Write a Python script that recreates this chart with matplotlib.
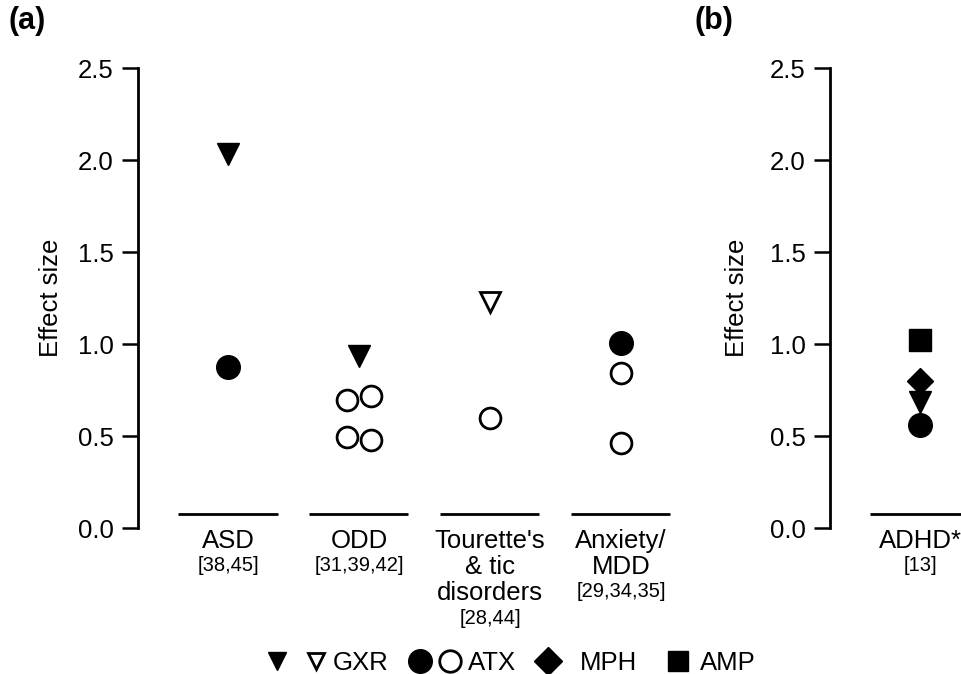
import matplotlib.pyplot as plt
from matplotlib.lines import Line2D
from matplotlib.legend_handler import HandlerTuple

plt.rcParams['font.family'] = ['Liberation Sans', 'DejaVu Sans']

# panel (a) data
categories = ['ASD', 'ODD', "Tourette's\n& tic\ndisorders", 'Anxiety/\nMDD']
refs = ['[38,45]', '[31,39,42]', '[28,44]', '[29,34,35]']

gxr_cat = [0, 1]
gxr_val = [2.03, 0.935]
gxr_open_cat = [2]
gxr_open_val = [1.23]
atx_cat = [0, 3]
atx_val = [0.875, 1.005]
atx_open_cat = [1, 1, 1, 1, 2, 3, 3]
atx_open_val = [0.695, 0.72, 0.495, 0.478, 0.60, 0.84, 0.46]
atx_open_dodge = [-0.095, 0.095, -0.095, 0.095, 0, 0, 0]

# panel (b) data
adhd_label = 'ADHD*'
adhd_ref = '[13]'
adhd_gxr = 0.685
adhd_atx = 0.56
adhd_mph = 0.80
adhd_amp = 1.02

yticks = [0.0, 0.5, 1.0, 1.5, 2.0, 2.5]

W, H = 961, 674
fig = plt.figure(figsize=(W / 100, H / 100), dpi=100)
ax1 = fig.add_axes([138 / W, (H - 528) / H, 552 / W, 460 / H])
ax2 = fig.add_axes([830 / W, (H - 528) / H, 131 / W, 460 / H])

base_y = 0.076
half = 0.378
fs = 18.5
rfs = 14.5


def style_axis(ax, xlim):
    ax.set_xlim(*xlim)
    ax.set_ylim(0, 2.5)
    for s in ['top', 'right', 'bottom']:
        ax.spines[s].set_visible(False)
    ax.spines['left'].set_linewidth(2)
    ax.set_yticks(yticks)
    ax.set_yticklabels([f'{t:.1f}' for t in yticks], fontsize=fs)
    ax.tick_params(axis='y', length=11.5, width=1.8, pad=6)
    ax.set_xticks([])
    ax.set_ylabel('Effect size', fontsize=fs)


def cat_labels(ax, names, rs):
    for i, (nm, rf) in enumerate(zip(names, rs)):
        ax.hlines(base_y, i - half, i + half, color='black', lw=2)
        ax.annotate(nm, xy=(i, 0), xycoords=('data', 'axes fraction'),
                    xytext=(0, -1), textcoords='offset points',
                    ha='center', va='top', fontsize=fs, linespacing=1.085)
        n = nm.count('\n') + 1
        ax.annotate(rf, xy=(i, 0), xycoords=('data', 'axes fraction'),
                    xytext=(0, -1 - 19.1 * n), textcoords='offset points',
                    ha='center', va='top', fontsize=rfs)


style_axis(ax1, (-0.687, 3.527))
style_axis(ax2, (-0.687, 0.313))
ax1.yaxis.set_label_coords(-0.136, 0.5)
ax2.yaxis.set_label_coords(-0.62, 0.5)

cat_labels(ax1, categories, refs)
ax2.hlines(base_y, -half, 0.5, color='black', lw=2)
ax2.annotate(adhd_label, xy=(0, 0), xycoords=('data', 'axes fraction'),
             xytext=(0, -1), textcoords='offset points',
             ha='center', va='top', fontsize=fs, annotation_clip=False)
ax2.annotate(adhd_ref, xy=(0, 0), xycoords=('data', 'axes fraction'),
             xytext=(0, -20.1), textcoords='offset points',
             ha='center', va='top', fontsize=rfs, annotation_clip=False)

filled = dict(color='black', markeredgecolor='black', linestyle='none', clip_on=False)
hollow = dict(color='black', markerfacecolor='white', markeredgecolor='black',
              linestyle='none', clip_on=False)

ax1.plot(gxr_cat, gxr_val, 'v', ms=16, mew=1, **filled)
ax1.plot(gxr_open_cat, gxr_open_val, 'v', ms=14, mew=2, **hollow)
ax1.plot(atx_cat, atx_val, 'o', ms=17, mew=1, **filled)
ax1.plot([c + d for c, d in zip(atx_open_cat, atx_open_dodge)], atx_open_val,
         'o', ms=15, mew=2, **hollow)

ax2.plot([0], [adhd_gxr], 'v', ms=16, mew=1, **filled)
ax2.plot([0], [adhd_atx], 'o', ms=17, mew=1, **filled)
ax2.plot([0], [adhd_mph], 'D', ms=13.5, mew=1, **filled)
ax2.plot([0], [adhd_amp], 's', ms=16, mew=1, **filled)

fig.text(9 / W, 1 - 6 / H, '(a)', fontsize=22, fontweight='bold', va='top')
fig.text(694 / W, 1 - 6 / H, '(b)', fontsize=22, fontweight='bold', va='top')

# legend: one small legend per entry so each can sit where the original has it
h_gxr = (Line2D([], [], marker='v', ms=13, mew=1, **filled),
         Line2D([], [], marker='v', ms=12, mew=2, **hollow))
h_atx = (Line2D([], [], marker='o', ms=17, mew=1, **filled),
         Line2D([], [], marker='o', ms=15.5, mew=2, **hollow))
h_mph = (Line2D([], [], marker='D', ms=14, mew=1, **filled),)
h_amp = (Line2D([], [], marker='s', ms=14.5, mew=1, **filled),)

legend_items = [
    (h_gxr, 'GXR', 265, 2.45, 0.58),
    (h_atx, 'ATX', 407, 2.18, 0.16),
    (h_mph, 'MPH', 521, 2.1, 0.0),
    (h_amp, 'AMP', 661, 1.32, 0.0),
]
for handle, label, x0, hl, pad in legend_items:
    fig.legend([handle], [label],
               handler_map={tuple: HandlerTuple(ndivide=None, pad=pad)},
               loc='center left', bbox_to_anchor=(x0 / W, 11 / H),
               frameon=False, fontsize=fs, handlelength=hl,
               handletextpad=0.2, borderpad=0, borderaxespad=0)

fig.savefig('out.png', dpi=100)
